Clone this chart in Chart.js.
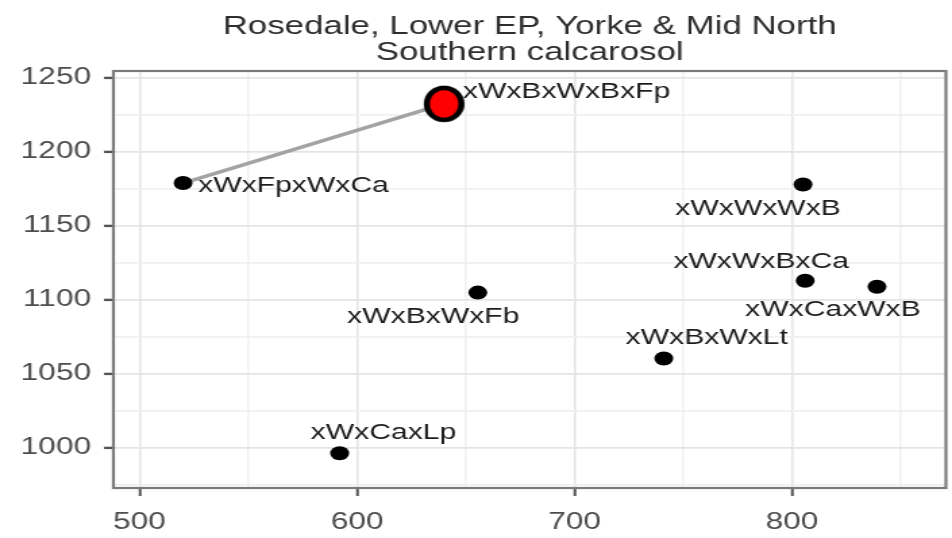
<!DOCTYPE html>
<html>
<head>
<meta charset="utf-8">
<script src="https://cdn.jsdelivr.net/npm/chart.js@4/dist/chart.umd.min.js"></script>
<style>
  html, body { margin: 0; padding: 0; background: #fff; overflow: hidden; }
  #wrap { width: 705px; height: 538px; transform: scaleX(1.350355); transform-origin: 0 0; }
  canvas { display: block; }
</style>
</head>
<body>
<div id="wrap"><canvas id="chart" width="705" height="538"></canvas></div>
<script>
// Cultivar mixes and their coordinates
const mixes  = ['xWxBxWxBxFp', 'xWxFpxWxCa', 'xWxWxWxB', 'xWxWxBxCa', 'xWxCaxWxB', 'xWxBxWxFb', 'xWxBxWxLt', 'xWxCaxLp'];
const xVals  = [640, 520, 805, 806, 839, 655.5, 741, 592];
const yVals  = [1232.5, 1179, 1178, 1113, 1109, 1105, 1060.5, 996.5];

// Highlighted mix and the mix it is linked from
const highlighted = 'xWxBxWxBxFp';
const linkedFrom  = 'xWxFpxWxCa';

// Axis breaks
const xMajor = [500, 600, 700, 800];
const xMinor = [550, 650, 750, 850];
const yMajor = [1000, 1050, 1100, 1150, 1200, 1250];
const yMinor = [975, 1025, 1075, 1125, 1175, 1225];

const titleLines = ['Rosedale, Lower EP, Yorke & Mid North', 'Southern calcarosol'];

// Label placement relative to each point (canvas pixels)
const labelNudge = [
  [90.7, -12], [81.8, 2.5], [-33.3, 24.3], [-32.6, -19],
  [-32.6, 23.3], [-33, 24.5], [31.8, -21], [32.4, -20]
];

const FONT = "'Liberation Sans', Arial, Helvetica, sans-serif";
Chart.defaults.font.family = FONT;

const points = mixes.map((m, i) => ({ x: xVals[i], y: yVals[i], name: m }));
const hiPoint = points.find(p => p.name === highlighted);
const fromPoint = points.find(p => p.name === linkedFrom);

// Red marker with a thick black ring
function ringMarker() {
  const c = document.createElement('canvas');
  c.width = 32; c.height = 38;
  const g = c.getContext('2d');
  g.beginPath();
  g.ellipse(16, 19, 12.8, 16, 0, 0, Math.PI * 2);
  g.fillStyle = '#ff0000';
  g.fill();
  g.lineWidth = 4.6;
  g.strokeStyle = '#000';
  g.stroke();
  return c;
}

const panelBorder = {
  id: 'panelBorder',
  beforeDatasetsDraw(chart) {
    const { ctx, chartArea: a } = chart;
    ctx.save();
    ctx.strokeStyle = '#7a7a7a';
    ctx.lineWidth = 2.2;
    ctx.strokeRect(a.left, a.top, a.right - a.left, a.bottom - a.top);
    ctx.restore();
  }
};

const pointLabels = {
  id: 'pointLabels',
  afterDatasetsDraw(chart) {
    const { ctx, scales: { x, y } } = chart;
    ctx.save();
    ctx.font = '22.3px ' + FONT;
    ctx.fillStyle = '#1c1c1c';
    ctx.textAlign = 'center';
    ctx.textBaseline = 'middle';
    points.forEach((p, i) => {
      const px = x.getPixelForValue(p.x) + labelNudge[i][0];
      const py = y.getPixelForValue(p.y) + labelNudge[i][1];
      ctx.fillText(p.name, px, py);
    });
    ctx.restore();
  }
};

const isIn = (arr, v) => arr.some(a => Math.abs(a - v) < 1e-6);
const noEdgePadding = s => { s.paddingLeft = 0; s.paddingRight = 0; s.paddingTop = 0; s.paddingBottom = 0; };

new Chart(document.getElementById('chart'), {
  type: 'scatter',
  data: {
    datasets: [
      {
        data: [hiPoint],
        pointStyle: ringMarker(),
        pointRadius: 16,
        pointHoverRadius: 16,
        order: 0
      },
      {
        data: points.filter(p => p.name !== highlighted),
        backgroundColor: '#000',
        borderWidth: 0,
        pointRadius: 7,
        pointHoverRadius: 7,
        order: 1
      },
      {
        data: [fromPoint, hiPoint],
        showLine: true,
        borderColor: '#a3a3a3',
        borderWidth: 3.6,
        pointRadius: 0,
        pointHoverRadius: 0,
        order: 2
      }
    ]
  },
  options: {
    responsive: false,
    animation: false,
    devicePixelRatio: 1,
    events: [],
    layout: { autoPadding: false, padding: { left: 0, right: 4.5, top: 0, bottom: 0 } },
    plugins: {
      legend: { display: false },
      tooltip: { enabled: false },
      title: {
        display: true,
        text: titleLines,
        color: '#2e2e2e',
        fullSize: false,
        font: { size: 25.8, weight: 'normal', lineHeight: 1 },
        padding: { top: 14, bottom: 5.4 }
      }
    },
    scales: {
      x: {
        type: 'linear',
        min: 488,
        max: 870.7,
        bounds: 'data',
        afterBuildTicks: s => { s.ticks = xMajor.concat(xMinor).sort((a, b) => a - b).map(v => ({ value: v })); },
        afterFit: s => { s.height = 50; noEdgePadding(s); },
        border: { display: false },
        grid: {
          color: c => isIn(xMajor, c.tick.value) ? '#e4e4e4' : '#f0f0f0',
          lineWidth: 1.5,
          tickLength: 8,
          tickWidth: 2,
          tickColor: c => isIn(xMajor, c.tick.value) ? '#555' : 'rgba(0,0,0,0)'
        },
        ticks: {
          autoSkip: false,
          maxRotation: 0,
          padding: 14.5,
          color: '#4d4d4d',
          font: { size: 23.4, lineHeight: 1 },
          callback: v => isIn(xMajor, v) ? String(v) : ''
        }
      },
      y: {
        type: 'linear',
        min: 973,
        max: 1254.7,
        bounds: 'data',
        afterBuildTicks: s => { s.ticks = yMajor.concat(yMinor).sort((a, b) => a - b).map(v => ({ value: v })); },
        afterFit: s => { s.width = 84; noEdgePadding(s); },
        border: { display: false },
        grid: {
          color: c => isIn(yMajor, c.tick.value) ? '#e4e4e4' : '#f0f0f0',
          lineWidth: 1.8,
          tickLength: 7,
          tickWidth: 2.4,
          tickColor: c => isIn(yMajor, c.tick.value) ? '#555' : 'rgba(0,0,0,0)'
        },
        ticks: {
          autoSkip: false,
          padding: 9.6,
          color: '#4d4d4d',
          font: { size: 23.4, lineHeight: 1 },
          callback: v => isIn(yMajor, v) ? String(v) : ''
        }
      }
    }
  },
  plugins: [panelBorder, pointLabels]
});
</script>
</body>
</html>
